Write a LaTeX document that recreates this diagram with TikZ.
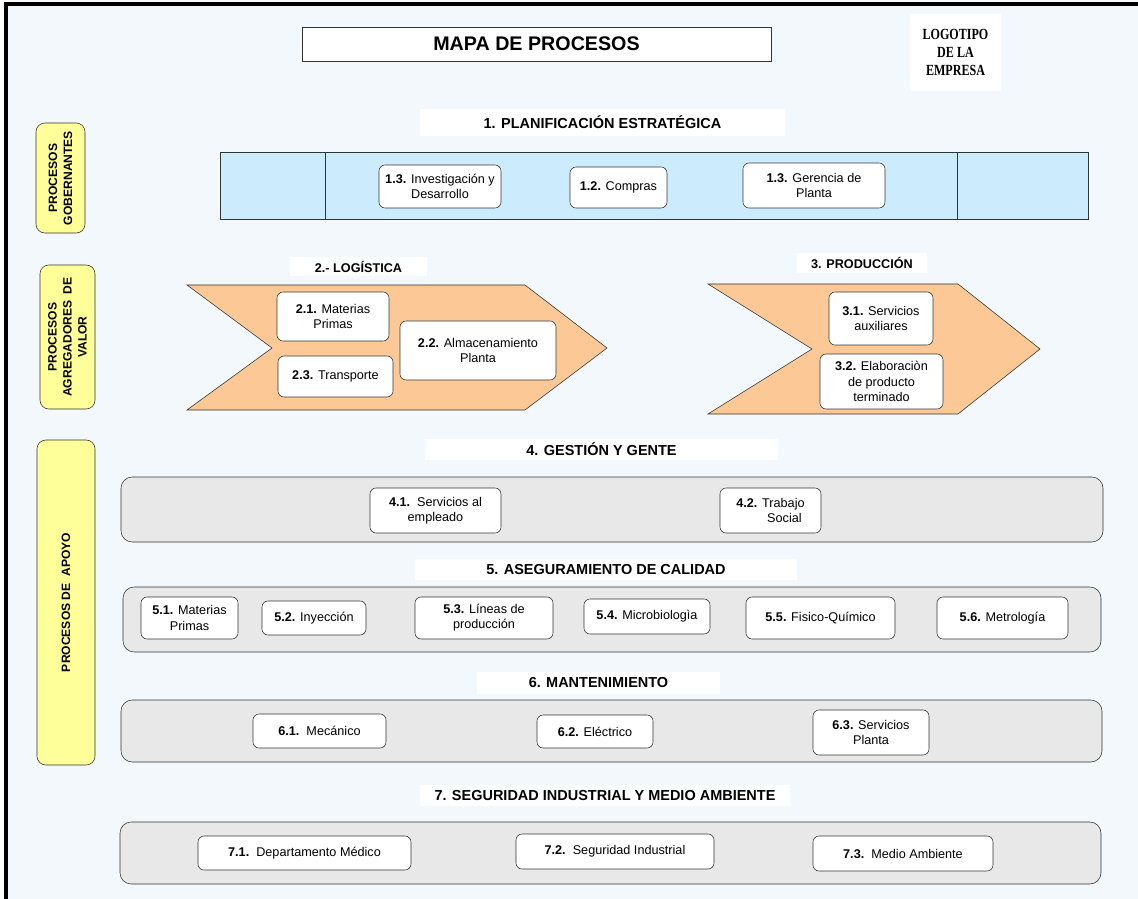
\documentclass[tikz,border=0pt]{standalone}
\usepackage{fontspec}
\setmainfont{Liberation Sans}
\newfontfamily\logofont[FakeStretch=0.78]{Liberation Serif}
\definecolor{pagebg}{HTML}{F3F8FC}
\definecolor{bandblue}{HTML}{CCEBFC}
\definecolor{bandgrey}{HTML}{E8E8E8}
\definecolor{peach}{HTML}{FCC996}
\definecolor{lemon}{HTML}{FFFF99}
\definecolor{edge}{HTML}{333333}
\tikzset{
  sz/.style 2 args={minimum width=#1*0.025cm, minimum height=#2*0.025cm},
  item/.style={draw=edge, fill=white, rounded corners=0.15cm, inner sep=0pt,
    align=center, font=\fontsize{9}{10.8}\selectfont},
  head/.style={fill=white, inner sep=0pt, font=\fontsize{10.3}{12}\selectfont\bfseries},
  band/.style={draw=edge, fill=bandgrey, rounded corners=0.28cm, inner sep=0pt},
  side/.style={draw=edge, fill=lemon, rounded corners=0.22cm, inner sep=0pt},
  sidetext/.style={rotate=90, align=center, font=\fontsize{8.6}{10.7}\selectfont\bfseries},
  chev/.style={draw=edge, fill=peach},
}
\begin{document}
\begin{tikzpicture}[x=0.025cm, y=-0.025cm]
  \useasboundingbox (0,0) rectangle (1138,899);
  \fill[pagebg] (6,4) rectangle (1138,899);
  \draw[line width=2.2pt] (6,899) -- (6,4) -- (1138,4);

  \node[draw=edge, fill=white, sz={469}{34}, font=\fontsize{14}{16}\selectfont\bfseries]
    (title) at (536.5,44) {MAPA DE PROCESOS};
  \node[fill=white, sz={91}{77}, align=center, font=\fontsize{11}{12.5}\selectfont\logofont\bfseries]
    (logo) at (955.5,52.5) {LOGOTIPO\\DE LA\\EMPRESA};

  % procesos gobernantes
  \node[side, sz={49}{110}] (gob) at (60.5,178) {};
  \node[sidetext] at (gob) {PROCESOS\\GOBERNANTES};
  \node[head, sz={365}{27}] (h1) at (602.5,122.5) {1. PLANIFICACIÓN ESTRATÉGICA};
  \node[draw=edge, fill=bandblue, sz={868}{67}, inner sep=0pt] (plan) at (654,185.5) {};
  \draw[edge] (325,152) -- (325,219);
  \draw[edge] (957,152) -- (957,219);
  \node[item, sz={122}{43}] (b13a) at (440,186.5) {\textbf{1.3.} Investigación y\\Desarrollo};
  \node[item, sz={97}{41}] (b12) at (618.5,187.5) {\textbf{1.2.} Compras};
  \node[item, sz={142}{45}] (b13b) at (814,185.5) {\textbf{1.3.} Gerencia de\\Planta};

  % procesos agregadores de valor
  \node[side, sz={55}{144}] (agr) at (67.5,337) {};
  \node[sidetext] at (agr) {PROCESOS\\AGREGADORES \ DE\\VALOR};
  \draw[chev] (187,285) -- (525,285) -- (607,348) -- (525,410) -- (187,410) -- (272,348) -- cycle;
  \draw[chev] (708,284) -- (958,284) -- (1040,349) -- (958,414) -- (708,414) -- (812,349) -- cycle;
  \node[head, sz={137}{19}, font=\fontsize{9}{10}\selectfont\bfseries] (h2) at (358.5,266.5) {2.- LOGÍSTICA};
  \node[head, sz={130}{20}, font=\fontsize{9}{10}\selectfont\bfseries] (h3) at (862,263) {3. PRODUCCIÓN};
  \node[item, sz={112}{49}] (b21) at (333,316.5) {\textbf{2.1.} Materias\\Primas};
  \node[item, sz={115}{41}] (b23) at (335.5,376.5) {\textbf{2.3.} Transporte};
  \node[item, sz={156}{59}] (b22) at (478,350.5) {\textbf{2.2.} Almacenamiento\\Planta};
  \node[item, sz={104}{53}] (b31) at (881,318.5) {\textbf{3.1.} Servicios\\auxiliares};
  \node[item, sz={123}{55}] (b32) at (881.5,381.5) {\textbf{3.2.} Elaboraciòn\\de producto\\terminado};

  % procesos de apoyo
  \node[side, sz={58}{325}] (apoyo) at (66,602.5) {};
  \node[sidetext] at (apoyo) {PROCESOS DE \ APOYO};

  \node[head, sz={353}{21}] (h4) at (601.5,449.5) {4. GESTIÓN Y GENTE};
  \node[band, sz={982}{65}] (g4) at (612,509.5) {};
  \node[item, sz={131}{45}] (b41) at (435.5,510.5) {\textbf{4.1.}\ \ Servicios al\\empleado};
  \node[item, sz={101}{45}] (b42) at (770.5,510.5) {\textbf{4.2.} Trabajo\\\hspace*{2.2em}Social};

  \node[head, sz={382}{21}] (h5) at (606,569.5) {5. ASEGURAMIENTO DE CALIDAD};
  \node[band, sz={978}{65}] (g5) at (612,619.5) {};
  \node[item, sz={97}{42}] (b51) at (189.5,618) {\textbf{5.1.} Materias\\Primas};
  \node[item, sz={104}{34}] (b52) at (314,618) {\textbf{5.2.} Inyección};
  \node[item, sz={138}{42}] (b53) at (484,618) {\textbf{5.3.} Líneas de\\producción};
  \node[item, sz={126}{35}] (b54) at (647,616.5) {\textbf{5.4.} Microbiologìa};
  \node[item, sz={149}{42}] (b55) at (820.5,618) {\textbf{5.5.} Fisico-Químico};
  \node[item, sz={131}{42}] (b56) at (1002.5,618) {\textbf{5.6.} Metrología};

  \node[head, sz={243}{22}] (h6) at (598.5,683) {6. MANTENIMIENTO};
  \node[band, sz={981}{62}] (g6) at (611.5,731) {};
  \node[item, sz={133}{34}] (b61) at (319.5,731) {\textbf{6.1.}\ \ Mecánico};
  \node[item, sz={116}{33}] (b62) at (595,731.5) {\textbf{6.2.} Eléctrico};
  \node[item, sz={116}{45}] (b63) at (871,732.5) {\textbf{6.3.} Servicios\\Planta};

  \node[head, sz={370}{21}] (h7) at (605,795.5) {7. SEGURIDAD INDUSTRIAL Y MEDIO AMBIENTE};
  \node[band, sz={981}{62}] (g7) at (610.5,853) {};
  \node[item, sz={213}{34}] (b71) at (304.5,853) {\textbf{7.1.}\ \ Departamento Médico};
  \node[item, sz={198}{35}] (b72) at (615,851.5) {\textbf{7.2.}\ \ Seguridad Industrial};
  \node[item, sz={180}{35}] (b73) at (903,853.5) {\textbf{7.3.}\ \ Medio Ambiente};
\end{tikzpicture}
\end{document}
